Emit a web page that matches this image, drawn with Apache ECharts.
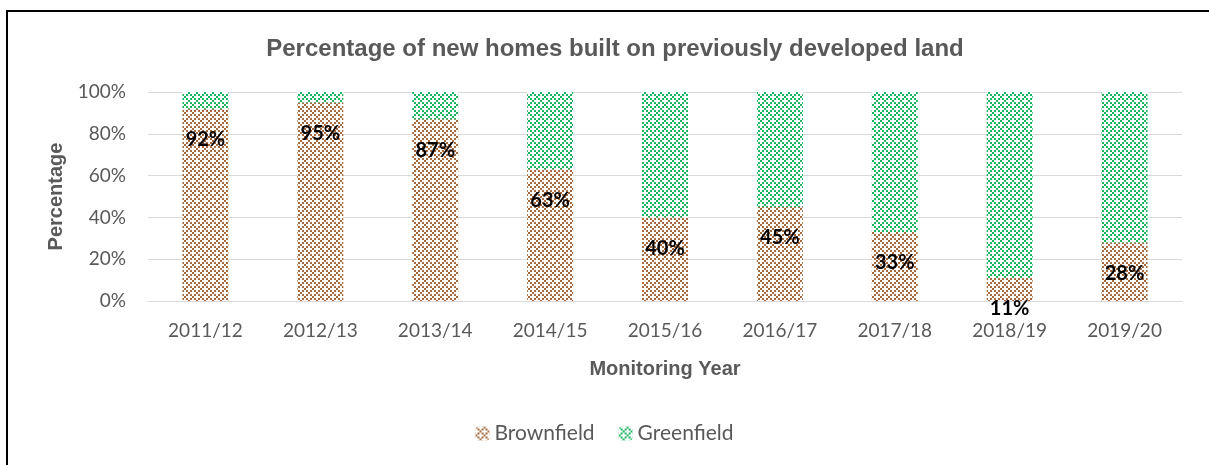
<!DOCTYPE html>
<html>
<head>
<meta charset="utf-8">
<script src="https://cdn.jsdelivr.net/npm/echarts@6/dist/echarts.min.js"></script>
<style>
  html, body { margin: 0; padding: 0; background: #fff; }
  #chart { width: 1209px; height: 465px; }
</style>
</head>
<body>
<div id="chart"></div>
<script>
// data
const years = ['2011/12', '2012/13', '2013/14', '2014/15', '2015/16', '2016/17', '2017/18', '2018/19', '2019/20'];
const brownfield = [92, 95, 87, 63, 40, 45, 33, 11, 28];
const greenfield = [8, 5, 13, 37, 60, 55, 67, 89, 72];
const yTicks = [0, 20, 40, 60, 80, 100];

// excel-like dotted diamond hatch
function makePattern(color) {
    const c = document.createElement('canvas');
    c.width = 8; c.height = 8;
    const ctx = c.getContext('2d');
    ctx.fillStyle = '#fff';
    ctx.fillRect(0, 0, 8, 8);
    ctx.fillStyle = color;
    for (let i = 0; i < 4; i++) {
        for (let j = 0; j < 4; j++) {
            if ((i + j) % 4 === 0 || ((i - j) % 4 + 4) % 4 === 0) {
                ctx.fillRect(i * 2, j * 2, 2, 2);
            }
        }
    }
    return { image: c, repeat: 'repeat' };
}

const chart = echarts.init(document.getElementById('chart'));

const option = {
    backgroundColor: '#fff',
    animation: false,
    title: {
        text: 'Percentage of new homes built on previously developed land',
        left: 610,
        textAlign: 'center',
        top: 32,
        textStyle: { fontFamily: 'Liberation Sans', fontSize: 24, fontWeight: 'bold', color: '#595959' }
    },
    graphic: [{
        type: 'rect',
        shape: { x: 7, y: 11, width: 1400, height: 600 },
        style: { fill: 'none', stroke: '#000', lineWidth: 2 },
        silent: true
    }],
    legend: {
        bottom: 16,
        left: 'center',
        itemWidth: 14,
        itemHeight: 14,
        itemGap: 24,
        textStyle: { fontFamily: 'Lato', fontSize: 21, color: '#595959' },
        data: ['Brownfield', 'Greenfield']
    },
    grid: { left: 148, right: 27, top: 92, bottom: 164 },
    xAxis: {
        type: 'category',
        data: years,
        name: 'Monitoring Year',
        nameLocation: 'middle',
        nameGap: 58,
        nameTextStyle: { fontFamily: 'Liberation Sans', fontSize: 20, fontWeight: 'bold', color: '#595959' },
        axisLine: { lineStyle: { color: '#d9d9d9' } },
        axisTick: { show: false },
        axisLabel: { fontFamily: 'Lato', fontSize: 19, color: '#595959', margin: 20 }
    },
    yAxis: {
        type: 'value',
        min: yTicks[0],
        max: yTicks[yTicks.length - 1],
        interval: 20,
        name: 'Percentage',
        nameLocation: 'middle',
        nameGap: 82,
        nameTextStyle: { fontFamily: 'Liberation Sans', fontSize: 20, fontWeight: 'bold', color: '#595959' },
        axisLine: { show: false },
        axisTick: { show: false },
        splitLine: { lineStyle: { color: '#d9d9d9', width: 1 } },
        axisLabel: { fontFamily: 'Lato', fontSize: 19, color: '#595959', margin: 22, formatter: '{value}%' }
    },
    series: [
        {
            name: 'Brownfield',
            type: 'bar',
            stack: 'total',
            barWidth: '40%',
            data: brownfield,
            itemStyle: { color: makePattern('#a8693c') },
            label: {
                show: true,
                position: 'insideTop',
                distance: 21,
                formatter: '{c}%',
                fontFamily: 'Lato',
                fontSize: 20,
                fontWeight: 'bold',
                color: '#000'
            }
        },
        {
            name: 'Greenfield',
            type: 'bar',
            stack: 'total',
            barWidth: '40%',
            data: greenfield,
            itemStyle: { color: makePattern('#1db560') }
        }
    ]
};

chart.setOption(option);

window.onresize = function () {
    chart.resize();
};
</script>
</body>
</html>
